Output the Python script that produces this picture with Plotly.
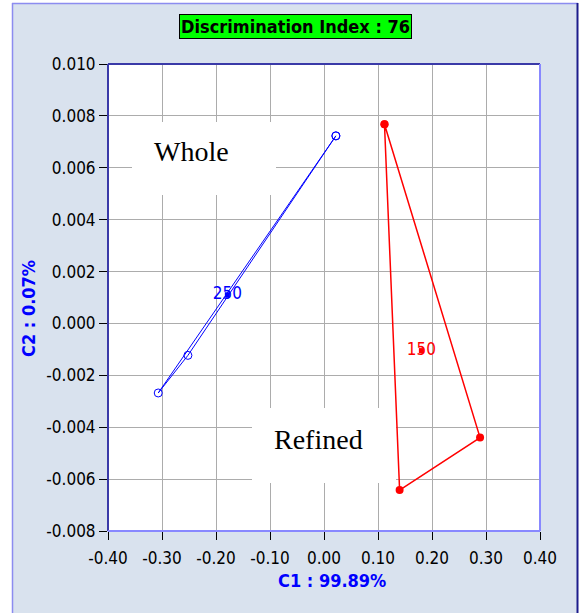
import plotly.graph_objects as go

# ---- data -----------------------------------------------------------------
whole_c1 = [0.022, -0.307, -0.252]
whole_c2 = [0.00723, -0.00268, -0.00123]
whole_count = "250"

refined_c1 = [0.112, 0.289, 0.140]
refined_c2 = [0.00768, -0.0044, -0.00642]
refined_count = "150"

x_ticks = [-0.4, -0.3, -0.2, -0.1, 0.0, 0.1, 0.2, 0.3, 0.4]
x_tick_labels = ["-0.40", "-0.30", "-0.20", "-0.10", "0.00", "0.10", "0.20", "0.30", "0.40"]
y_ticks = [-0.008, -0.006, -0.004, -0.002, 0.0, 0.002, 0.004, 0.006, 0.008, 0.010]
y_tick_labels = ["-0.008", "-0.006", "-0.004", "-0.002", "0.000", "0.002", "0.004",
                 "0.006", "0.008", "0.010"]

title_text = "Discrimination Index : 76"
x_title = "C1 : 99.89%"
y_title = "C2 : 0.07%"

# ---- geometry helpers (pixel -> paper / data) -----------------------------
W, H = 580, 613
ML, MR, MT, MB = 108, 40, 64, 82
PW, PH = W - ML - MR, H - MT - MB
X0, X1 = x_ticks[0], x_ticks[-1]
Y0, Y1 = y_ticks[0], y_ticks[-1]


def px(xp):
    return (xp - ML) / PW


def py(yp):
    return (MT + PH - yp) / PH


def dx(xp):
    return X0 + (xp - ML) / PW * (X1 - X0)


def dy(yp):
    return Y1 - (yp - MT) / PH * (Y1 - Y0)


NARROW = "Liberation Sans Narrow, Arial Narrow, DejaVu Sans Condensed, sans-serif"
SERIF = "Liberation Serif, Times New Roman, serif"

fig = go.Figure()

# group triangles
fig.add_trace(go.Scatter(
    x=whole_c1 + whole_c1[:1], y=whole_c2 + whole_c2[:1],
    mode="lines+markers",
    line=dict(color="#0000ff", width=1),
    marker=dict(symbol="circle-open", size=8, color="#0000ff", line=dict(width=1)),
    hoverinfo="skip",
))
fig.add_trace(go.Scatter(
    x=refined_c1 + refined_c1[:1], y=refined_c2 + refined_c2[:1],
    mode="lines+markers",
    line=dict(color="#ff0000", width=1.5),
    marker=dict(symbol="circle", size=8, color="#ff0000"),
    hoverinfo="skip",
))

# group centroids with their counts
groups = [
    (whole_c1, whole_c2, whole_count, "#0000ff"),
    (refined_c1, refined_c2, refined_count, "#ff0000"),
]
annotations = []
for gx, gy, label, col in groups:
    cx = sum(gx) / len(gx)
    cy = sum(gy) / len(gy)
    fig.add_trace(go.Scatter(
        x=[cx], y=[cy], mode="markers+text",
        marker=dict(symbol="square", size=5, color=col),
        text=[label], textposition="middle center",
        textfont=dict(family=NARROW, size=17, color=col),
        hoverinfo="skip",
    ))

shapes = [
    # outer panel
    dict(type="rect", xref="paper", yref="paper", layer="below",
         x0=px(12), x1=px(578), y0=py(613), y1=py(3),
         fillcolor="#d9e2ee", line=dict(width=0)),
    # plotting area
    dict(type="rect", xref="paper", yref="paper", layer="below",
         x0=0, x1=1, y0=0, y1=1, fillcolor="white", line=dict(width=0)),
    # white boxes behind the group names
    dict(type="rect", xref="x", yref="y", layer="between",
         x0=dx(132), x1=dx(276), y0=dy(195), y1=dy(122),
         fillcolor="white", line=dict(width=0)),
    dict(type="rect", xref="x", yref="y", layer="between",
         x0=dx(252), x1=dx(396), y0=dy(483), y1=dy(408),
         fillcolor="white", line=dict(width=0)),
    # panel edges
    dict(type="line", xref="paper", yref="paper", x0=px(12.5), x1=px(12.5),
         y0=py(613), y1=py(3), line=dict(color="#8c8cf0", width=1.5)),
    dict(type="line", xref="paper", yref="paper", x0=px(12), x1=px(578),
         y0=py(3.5), y1=py(3.5), line=dict(color="#8c8cf0", width=1.5)),
    dict(type="line", xref="paper", yref="paper", x0=px(577.5), x1=px(577.5),
         y0=py(613), y1=py(3), line=dict(color="#1c1c8c", width=2)),
    # plot frame
    dict(type="line", xref="paper", yref="paper", x0=0, x1=1, y0=1, y1=1,
         line=dict(color="#3a3aa8", width=2)),
    dict(type="line", xref="paper", yref="paper", x0=0, x1=0, y0=0, y1=1,
         line=dict(color="#3a3aa8", width=2)),
    dict(type="line", xref="paper", yref="paper", x0=1, x1=1, y0=0, y1=1,
         line=dict(color="#8888ff", width=2)),
    dict(type="line", xref="paper", yref="paper", x0=0, x1=1, y0=0, y1=0,
         line=dict(color="#8888ff", width=2)),
]

annotations += [
    dict(xref="paper", yref="paper", x=px(295), y=py(26), showarrow=False,
         text="<b>" + title_text + "</b>", xanchor="center", yanchor="middle",
         font=dict(family=NARROW, size=18, color="black"),
         bgcolor="#00ff00", bordercolor="black", borderwidth=1, borderpad=1),
    dict(xref="paper", yref="paper", x=px(332), y=py(580), showarrow=False,
         text="<b>" + x_title + "</b>", xanchor="center", yanchor="middle",
         font=dict(family=NARROW, size=18, color="#0000ff")),
    dict(xref="paper", yref="paper", x=px(28), y=py(309), showarrow=False,
         text="<b>" + y_title + "</b>", xanchor="center", yanchor="middle",
         textangle=-90, font=dict(family=NARROW, size=18, color="#0000ff")),
    dict(xref="paper", yref="paper", x=px(152), y=py(151), showarrow=False,
         text="Whole", xanchor="left", yanchor="middle",
         font=dict(family=SERIF, size=28, color="black")),
    dict(xref="paper", yref="paper", x=px(272), y=py(439), showarrow=False,
         text="Refined", xanchor="left", yanchor="middle",
         font=dict(family=SERIF, size=28, color="black")),
]

axis_common = dict(
    showgrid=True, gridcolor="#acacac", gridwidth=1,
    ticks="outside", ticklen=8, tickwidth=1, tickcolor="black",
    showline=False, zeroline=False, fixedrange=True,
    tickfont=dict(family=NARROW, size=17, color="black"),
)

fig.update_layout(
    width=W, height=H,
    margin=dict(l=ML, r=MR, t=MT, b=MB, pad=0),
    paper_bgcolor="white", plot_bgcolor="white",
    showlegend=False, hovermode=False,
    xaxis=dict(range=[X0, X1], tickvals=x_ticks, ticktext=x_tick_labels,
               ticklabelstandoff=4, **axis_common),
    yaxis=dict(range=[Y0, Y1], tickvals=y_ticks, ticktext=y_tick_labels, **axis_common),
    shapes=shapes,
    annotations=annotations,
)

fig.write_html("out.html")
